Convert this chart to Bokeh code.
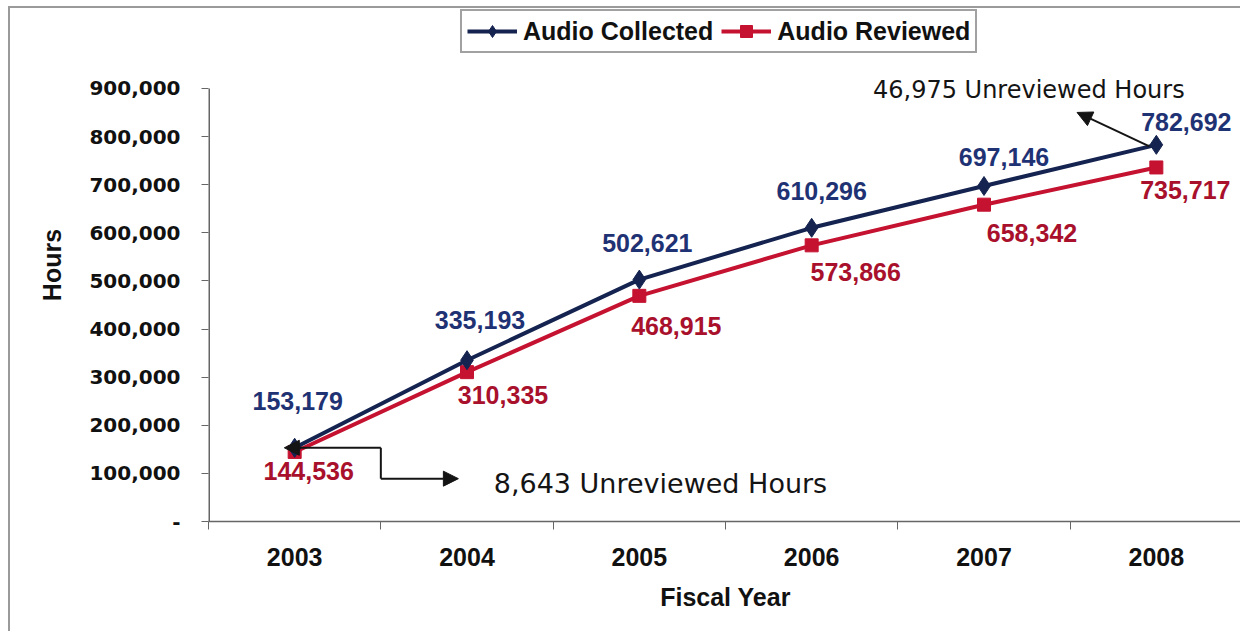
from bokeh.plotting import figure
from bokeh.models import (Range1d, FixedTicker, CustomJSTickFormatter, ColumnDataSource,
                          Legend, Arrow, NormalHead)
from bokeh.core.properties import value
from bokeh.embed import file_html
from bokeh.resources import INLINE

# ---- data ----
years = ["2003", "2004", "2005", "2006", "2007", "2008"]
collected = [153179, 335193, 502621, 610296, 697146, 782692]
reviewed = [144536, 310335, 468915, 573866, 658342, 735717]
y_ticks = [0, 100000, 200000, 300000, 400000, 500000, 600000, 700000, 800000, 900000]

# ---- layout helpers ----
xs = [i + 0.5 for i in range(len(years))]
coll_dx = [3, 13, 8, 10, 20, 30]
coll_dy = [-47, -40, -37, -37, -29, -23]
rev_dx = [14, 36, 37, 44, 48, 29]
rev_dy = [19, 23, 30, 27, 28, 23]

NAVY = "#14234F"
NAVY_T = "#1F3274"
RED = "#C41230"
RED_T = "#A8102C"
BOLD = value("Liberation Sans")
Y_TOP = 1066000  # headroom above the 900,000 tick for the legend

p = figure(width=1232, height=625, output_backend="svg", toolbar_location=None,
           x_range=Range1d(0, 6), y_range=Range1d(0, Y_TOP),
           min_border_left=198, min_border_right=0, min_border_top=0, min_border_bottom=112)
p.styles = {"margin-left": "8px", "margin-top": "6px",
            "border-left": "2px solid #9a9a9a", "border-top": "2px solid #9a9a9a"}
p.xgrid.visible = False
p.ygrid.visible = False
p.outline_line_color = None
p.background_fill_color = "white"
p.border_fill_color = "white"

# axes
xa = p.xaxis[0]
xa.ticker = FixedTicker(ticks=xs, minor_ticks=list(range(len(years) + 1)))
xa.formatter = CustomJSTickFormatter(args=dict(years=years),
                                     code="return years[Math.round(tick - 0.5)] || '';")
xa.major_tick_out = 0
xa.major_tick_in = 0
xa.minor_tick_out = 8
xa.minor_tick_in = 0
xa.minor_tick_line_color = "#666666"
xa.axis_line_color = "#666666"
xa.axis_line_width = 1.5
xa.major_label_text_font = "Liberation Sans"
xa.major_label_text_font_style = "bold"
xa.major_label_text_font_size = "25px"
xa.major_label_text_color = "#111111"
xa.major_label_standoff = 18
xa.axis_label = "Fiscal Year"
xa.axis_label_text_font = "Liberation Sans"
xa.axis_label_text_font_style = "bold"
xa.axis_label_text_font_size = "25px"
xa.axis_label_text_color = "#111111"
xa.axis_label_standoff = 14

ya = p.yaxis[0]
ya.ticker = FixedTicker(ticks=y_ticks, minor_ticks=[])
ya.formatter = CustomJSTickFormatter(
    code="return tick == 0 ? '-' : Math.round(tick).toLocaleString('en-US');")
ya.major_tick_out = 7
ya.major_tick_in = 0
ya.major_tick_line_color = "#666666"
ya.minor_tick_line_color = None
ya.axis_line_color = None
ya.major_label_text_font = "DejaVu Sans"
ya.major_label_text_font_style = "bold"
ya.major_label_text_font_size = "20px"
ya.major_label_text_color = "#111111"
ya.major_label_standoff = 21
ya.axis_label = "Hours"
ya.axis_label_text_font = "Liberation Sans"
ya.axis_label_text_font_style = "bold"
ya.axis_label_text_font_size = "25px"
ya.axis_label_text_color = "#111111"
ya.axis_label_standoff = 20
ya.axis_label_text_baseline = "middle"

# visible y axis line only up to the top tick
p.line([0, 0], [0, y_ticks[-1]], line_color="#666666", line_width=3)

# series
src = ColumnDataSource(dict(x=xs, c=collected, r=reviewed,
                            ct=[f"{v:,}" for v in collected], rt=[f"{v:,}" for v in reviewed],
                            cdx=coll_dx, cdy=coll_dy, rdx=rev_dx, rdy=rev_dy))

rl = p.line("x", "r", source=src, line_color=RED, line_width=4)
rs = p.scatter("x", "r", source=src, marker="square", size=13, fill_color=RED, line_color=RED)
cl = p.line("x", "c", source=src, line_color=NAVY, line_width=4)
cs = p.scatter("x", "c", source=src, marker="diamond", size=19, fill_color=NAVY, line_color=NAVY)

p.text("x", "c", text="ct", source=src, x_offset="cdx", y_offset="cdy",
       text_font=BOLD, text_font_style="bold", text_font_size="25px",
       text_color=NAVY_T, text_align="center", text_baseline="middle")
p.text("x", "r", text="rt", source=src, x_offset="rdx", y_offset="rdy",
       text_font=BOLD, text_font_style="bold", text_font_size="25px",
       text_color=RED_T, text_align="center", text_baseline="middle")

# annotations: unreviewed hours
gap0 = collected[0] - reviewed[0]
gapN = collected[-1] - reviewed[-1]
ANN = "#141414"

ex = 1.0
ey = 89000
p.add_layout(Arrow(end=NormalHead(size=15, fill_color=ANN, line_color=ANN),
                   x_start=ex, y_start=collected[0], x_end=xs[0] - 0.06, y_end=collected[0],
                   line_color=ANN, line_width=2))
p.line([ex, ex], [collected[0], ey], line_color=ANN, line_width=2)
p.add_layout(Arrow(end=NormalHead(size=15, fill_color=ANN, line_color=ANN),
                   x_start=ex, y_start=ey, x_end=1.45, y_end=ey,
                   line_color=ANN, line_width=2))
p.text([1.655], [79000], text=[f"{gap0:,} Unreviewed Hours"],
       text_font=value("DejaVu Sans"), text_font_size="27px", text_color=ANN,
       text_align="left", text_baseline="middle")

p.add_layout(Arrow(end=NormalHead(size=15, fill_color=ANN, line_color=ANN),
                   x_start=xs[-1] - 0.04, y_start=collected[-1] - 3000, x_end=5.04, y_end=850000,
                   line_color=ANN, line_width=2))
p.text([4.76], [896000], text=[f"{gapN:,} Unreviewed Hours"],
       text_font=value("DejaVu Sans"), text_font_size="24px", text_color=ANN,
       text_align="center", text_baseline="middle")

# legend
legend = Legend(items=[("Audio Collected", [cl, cs]), ("Audio Reviewed", [rl, rs])],
                orientation="horizontal", location=(252, 468),
                label_text_font="Liberation Sans", label_text_font_style="bold",
                label_text_font_size="25px", label_text_color="#111111",
                glyph_width=50, glyph_height=30, label_standoff=6, spacing=8,
                padding=5, margin=0, border_line_color="#444444", border_line_width=2,
                background_fill_color="white", background_fill_alpha=1.0)
p.add_layout(legend, "center")

open("out.html", "w").write(file_html(p, INLINE))
